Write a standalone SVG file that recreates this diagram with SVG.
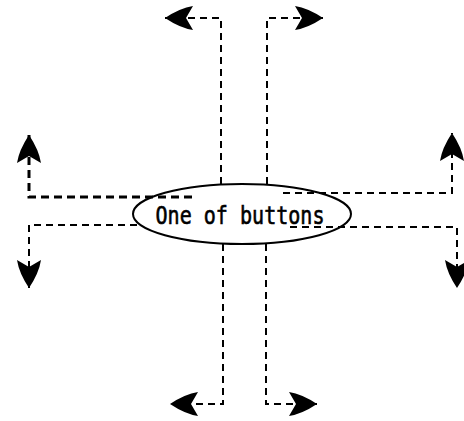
<svg xmlns="http://www.w3.org/2000/svg" width="464" height="421" viewBox="0 0 464 421">
<style>
.c{fill:none;stroke:#000;stroke-width:2;stroke-dasharray:7 5;marker-end:url(#ah)}
.thick{stroke-width:3;stroke-dasharray:8 5}
.n{fill:none;stroke:#000;stroke-width:2}
.t{font-family:"DejaVu Sans Mono","Liberation Mono",monospace;font-size:24px;fill:#000;stroke:#000;stroke-width:0.6}
</style>
<defs>
<marker id="ah" markerUnits="userSpaceOnUse" markerWidth="30" markerHeight="30" viewBox="-28 -14 30 28" refX="0" refY="0" orient="auto">
<path d="M0,0 Q-15,-10 -28,-12 L-21,0 L-28,12 Q-15,10 0,0 Z" fill="#000"/>
</marker>
</defs>
<rect width="464" height="421" fill="#fff"/>
<g id="button">
<ellipse class="n" cx="242" cy="214" rx="109" ry="30"/>
<text class="t" x="240" y="224" text-anchor="middle" textLength="169" lengthAdjust="spacingAndGlyphs">One of buttons</text>
</g>
<g id="connectors">
<path class="c" d="M221,184 V18 H165"/>
<path class="c" d="M267,184 V18 H323"/>
<path class="c thick" d="M192,197 H29 V135"/>
<path class="c" d="M137,225 H29 V288"/>
<path class="c" d="M283,193 H452 V133"/>
<path class="c" d="M290,227 H457 V288"/>
<path class="c" d="M223,244 V404 H170"/>
<path class="c" d="M266,244 V404 H317"/>
</g>
</svg>
